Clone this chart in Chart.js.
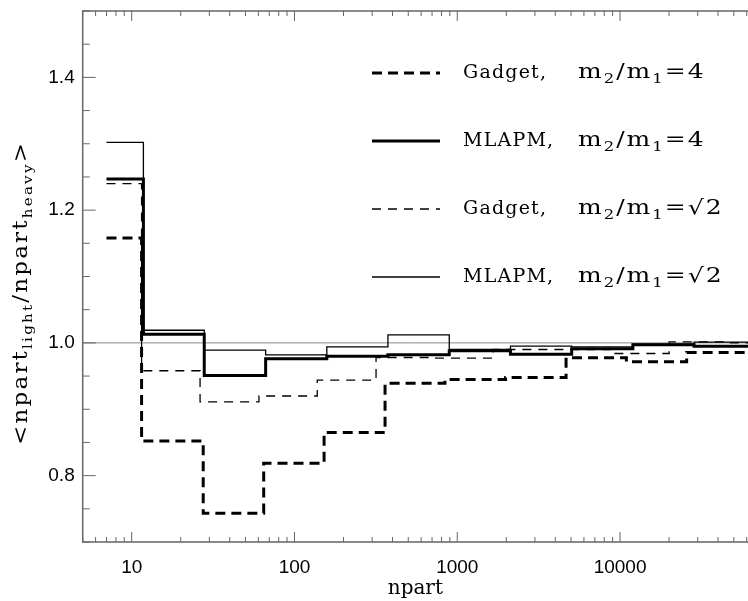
<!DOCTYPE html>
<html>
<head>
<meta charset="utf-8">
<script src="https://cdn.jsdelivr.net/npm/chart.js@4.4.0/dist/chart.umd.min.js"></script>
<style>
  html, body { margin: 0; padding: 0; background: #fff; }
  #wrap { width: 748px; height: 601px; }
</style>
</head>
<body>
<div id="wrap"><canvas id="chart"></canvas></div>
<script>
// tick labels
const xTickValues = [10, 100, 1000, 10000];
const yTickValues = [0.8, 1.0, 1.2, 1.4];
const refValue = 1.0;

// bin edges (npart) for each run
const gadget4Edges = [7, 11.5, 27.5, 64.7, 152, 360, 840, 1980, 4660, 10940, 25660, 100000];
const mlapmEdges = [7, 11.8, 27.9, 66.5, 158, 375, 893, 2122, 5045, 11990, 28500, 100000];
const gadgetSqrt2Edges = [7, 11.5, 26.3, 60.5, 138, 317, 727, 1663, 3817, 8742, 20030, 45860, 100000];

// <npart_light/npart_heavy> per bin
const gadget4 = [1.158, 0.852, 0.7435, 0.8186, 0.865, 0.939, 0.945, 0.948, 0.9775, 0.9714, 0.9855];
const mlapm4 = [1.247, 1.013, 0.951, 0.976, 0.980, 0.982, 0.988, 0.983, 0.991, 0.997, 0.995];
const gadgetSqrt2 = [1.240, 0.958, 0.911, 0.920, 0.944, 0.978, 0.977, 0.990, 0.990, 0.984, 1.0015, 1.000];
const mlapmSqrt2 = [1.302, 1.019, 0.989, 0.982, 0.994, 1.012, 0.990, 0.995, 0.994, 0.998, 1.001];

const serif = '"DejaVu Serif", serif';
const sans = '"Liberation Sans", Arial, sans-serif';
const axisColor = "#666";

// legend text: name + ratio (sub = subscript)
const nameGadget = "Gadget,";
const nameMlapm = "MLAPM,";
const ratio4 = [{ t: "m" }, { t: "2", sub: true }, { t: "/m" }, { t: "1", sub: true }, { t: "=4" }];
const ratioSqrt2 = [{ t: "m" }, { t: "2", sub: true }, { t: "/m" }, { t: "1", sub: true }, { t: "=√2" }];
const yTitle = [{ t: "<npart" }, { t: "light", sub: true }, { t: "/npart" }, { t: "heavy", sub: true }, { t: ">" }];

function steps(edges, vals) {
  const pts = vals.map((v, i) => ({ x: edges[i], y: v }));
  pts.push({ x: edges[vals.length], y: vals[vals.length - 1] });
  return pts;
}

// draws text pieces char by char, stretched by sx and spaced, returns width
function drawRich(ctx, parts, x, y, size, sx, spacing, measureOnly) {
  let cx = x;
  parts.forEach((p) => {
    const s = p.sub ? size * 0.66 : size;
    ctx.font = `${s}px ${serif}`;
    for (const ch of p.t) {
      if (!measureOnly) {
        ctx.save();
        ctx.translate(cx, y + (p.sub ? size * 0.32 : 0));
        ctx.scale(sx, 1);
        ctx.fillText(ch, 0, 0);
        ctx.restore();
      }
      cx += ctx.measureText(ch).width * sx + spacing;
    }
  });
  return cx - x - spacing;
}

const datasets = [
  { label: nameGadget, ratio: ratio4, data: steps(gadget4Edges, gadget4), borderWidth: 3, borderDash: [10, 6] },
  { label: nameMlapm, ratio: ratio4, data: steps(mlapmEdges, mlapm4), borderWidth: 3, borderDash: [] },
  { label: nameGadget, ratio: ratioSqrt2, data: steps(gadgetSqrt2Edges, gadgetSqrt2), borderWidth: 1.3, borderDash: [9, 7] },
  { label: nameMlapm, ratio: ratioSqrt2, data: steps(mlapmEdges, mlapmSqrt2), borderWidth: 1.3, borderDash: [] },
].map((d) => ({
  ...d,
  borderColor: "#000",
  pointRadius: 0,
  stepped: true,
  fill: false,
  tension: 0,
}));

const framePlugin = {
  id: "frame",
  beforeDatasetsDraw(chart) {
    const { ctx, chartArea, scales } = chart;
    const y1 = scales.y.getPixelForValue(refValue);
    ctx.save();
    ctx.strokeStyle = "#888";
    ctx.lineWidth = 1;
    ctx.beginPath();
    ctx.moveTo(chartArea.left, y1);
    ctx.lineTo(chartArea.right, y1);
    ctx.stroke();
    ctx.restore();
  },
  afterDraw(chart) {
    const { ctx, chartArea: a, scales } = chart;
    ctx.save();
    ctx.strokeStyle = axisColor;
    ctx.lineWidth = 1.5;
    ctx.beginPath();
    ctx.moveTo(a.right, a.top);
    ctx.lineTo(a.left, a.top);
    ctx.lineTo(a.left, a.bottom);
    ctx.lineTo(a.right, a.bottom);
    ctx.stroke();

    ctx.lineWidth = 1;
    ctx.beginPath();
    // y ticks every 0.05
    for (let i = 0; i <= 16; i++) {
      const v = 0.7 + i * 0.05;
      const py = scales.y.getPixelForValue(v);
      const major = yTickValues.some((t) => Math.abs(t - v) < 1e-6);
      ctx.moveTo(a.left, py);
      ctx.lineTo(a.left + (major ? 13 : 7), py);
    }
    // x ticks, top and bottom
    for (let d = 1; d <= 10000; d *= 10) {
      for (let m = 1; m <= 9; m++) {
        const v = m * d;
        if (v < scales.x.min || v > scales.x.max) continue;
        const px = scales.x.getPixelForValue(v);
        const len = m === 1 ? 10 : 5;
        ctx.moveTo(px, a.bottom);
        ctx.lineTo(px, a.bottom - len);
        ctx.moveTo(px, a.top);
        ctx.lineTo(px, a.top + len);
      }
    }
    ctx.stroke();

    // legend
    const rowY = [73, 141, 209, 277];
    ctx.fillStyle = "#000";
    ctx.textBaseline = "middle";
    ctx.textAlign = "left";
    chart.data.datasets.forEach((ds, i) => {
      ctx.strokeStyle = "#000";
      ctx.lineWidth = ds.borderWidth;
      ctx.setLineDash(ds.borderDash);
      ctx.beginPath();
      ctx.moveTo(372, rowY[i]);
      ctx.lineTo(440, rowY[i]);
      ctx.stroke();
      ctx.setLineDash([]);
      drawRich(ctx, [{ t: ds.label }], 463, rowY[i], 19, 1, 1.2);
      drawRich(ctx, ds.ratio, 578, rowY[i], 20, 1.25, 2);
    });

    // y axis title
    const cy = 294;
    ctx.translate(22, cy);
    ctx.rotate(-Math.PI / 2);
    const w = drawRich(ctx, yTitle, 0, 0, 20, 1.15, 2.2, true);
    drawRich(ctx, yTitle, -w / 2, 0, 20, 1.15, 2.2);
    ctx.restore();
  },
};

new Chart(document.getElementById("chart"), {
  type: "line",
  data: { datasets },
  options: {
    responsive: true,
    maintainAspectRatio: false,
    animation: false,
    layout: { padding: { top: 11, left: 0, right: 0, bottom: 0 } },
    plugins: { legend: { display: false }, tooltip: { enabled: false } },
    scales: {
      x: {
        type: "logarithmic",
        min: 5,
        max: 61100,
        grid: { display: false, drawTicks: false },
        border: { display: false },
        ticks: {
          color: "#000",
          font: { family: sans, size: 19 },
          padding: 14,
          maxRotation: 0,
          autoSkip: false,
          callback: (v) => String(v),
        },
        afterBuildTicks: (s) => {
          s.ticks = xTickValues.map((v) => ({ value: v }));
        },
        afterFit: (s) => {
          s.height = 59;
          s.paddingLeft = 0;
          s.paddingRight = 0;
        },
        title: {
          display: true,
          text: "npart",
          color: "#000",
          font: { family: serif, size: 20 },
          padding: { top: 0, bottom: 0 },
        },
      },
      y: {
        min: 0.7,
        max: 1.5,
        grid: { display: false, drawTicks: false },
        border: { display: false },
        ticks: {
          color: "#000",
          font: { family: sans, size: 19 },
          padding: 8,
          callback: (v) => v.toFixed(1),
        },
        afterBuildTicks: (s) => {
          s.ticks = yTickValues.map((v) => ({ value: v }));
        },
        afterFit: (s) => {
          s.width = 82.7;
          s.paddingTop = 0;
          s.paddingBottom = 0;
        },
      },
    },
  },
  plugins: [framePlugin],
});
</script>
</body>
</html>
